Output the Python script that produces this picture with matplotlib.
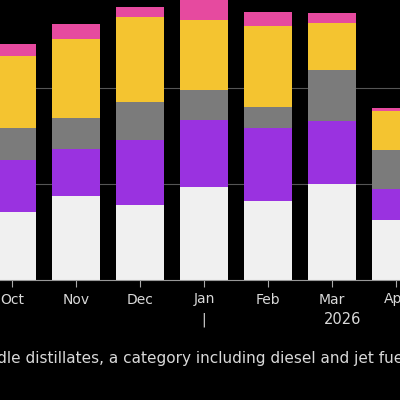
import numpy as np
import matplotlib.pyplot as plt
import matplotlib.transforms as mtransforms

# Months shown (Oct 2025 .. Apr 2026)
months = ['Oct', 'Nov', 'Dec', 'Jan', 'Feb', 'Mar', 'Apr']
# Stacked components, bottom to top (gridline step = 1)
white = [0.71, 0.88, 0.78, 0.97, 0.82, 1.00, 0.63]
purple = [0.54, 0.48, 0.68, 0.70, 0.76, 0.66, 0.32]
gray = [0.33, 0.33, 0.39, 0.31, 0.22, 0.53, 0.40]
yellow = [0.75, 0.82, 0.89, 0.73, 0.85, 0.49, 0.41]
pink = [0.13, 0.16, 0.10, 0.23, 0.14, 0.10, 0.03]

series = [white, purple, gray, yellow, pink]
colors = ['#f0f0f0', '#9a32e0', '#7b7b7b', '#f4c430', '#e64a9f']

note = 'Middle distillates, a category including diesel and jet fuel'
year_label = '2026'

fg = '#d9d9d9'

fig = plt.figure(figsize=(4, 4), dpi=100, facecolor='black')
ax = fig.add_axes([0, 0.3, 1, 0.7])
ax.set_facecolor('black')

x = np.arange(len(months))
bottom = np.zeros(len(months))
for vals, c in zip(series, colors):
    ax.bar(x, vals, width=0.75, bottom=bottom, color=c, zorder=2)
    bottom += np.array(vals)

ax.set_xlim(-0.1875, 6.0625)
ax.set_ylim(0, 2.9167)
for g in [1, 2, 3]:
    ax.axhline(g, color='#555555', linewidth=0.8, zorder=1)

ax.set_xticks(x)
ax.set_xticklabels(months, fontsize=10, color=fg)
ax.tick_params(axis='x', length=5, width=0.8, color='#aaaaaa', pad=4)
ax.set_yticks([])
for s in ['top', 'left', 'right']:
    ax.spines[s].set_visible(False)
ax.spines['bottom'].set_color('#999999')
ax.spines['bottom'].set_linewidth(0.8)

trans = mtransforms.blended_transform_factory(ax.transData, fig.transFigure)
ax.text(5.17, 0.2, year_label, transform=trans, ha='center', va='center',
        fontsize=10.5, color=fg)
ax.text(3, 0.2, '|', transform=trans, ha='center', va='center',
        fontsize=10, color=fg)

fig.text(-0.075, 0.105, note, ha='left', va='center', fontsize=11.0, color=fg)

fig.savefig('out.png', dpi=100, facecolor='black')
